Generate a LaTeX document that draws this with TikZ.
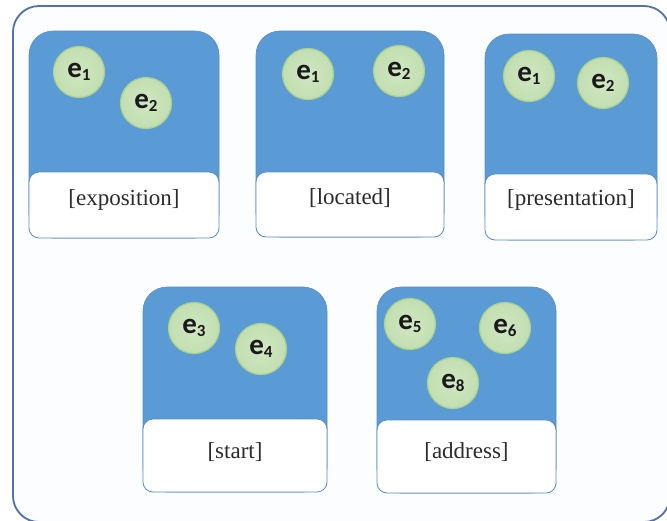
\documentclass[tikz,border=0pt]{standalone}
\usepackage{fontspec}
\setmainfont{Liberation Serif}
\newfontfamily\efont{Carlito}
\definecolor{cardblue}{HTML}{5B9BD5}
\definecolor{cardedge}{HTML}{5A8CC4}
\definecolor{frameedge}{HTML}{4F72AA}
\definecolor{framebg}{HTML}{FCFDFF}
\definecolor{entfill}{HTML}{C5E0B4}
\definecolor{entedge}{HTML}{A9D18E}
\definecolor{labtext}{HTML}{2B2B2B}
\newcommand{\ent}[1]{{\efont\bfseries\fontsize{29}{29}\selectfont e\raisebox{-3.5pt}{\fontsize{17}{17}\selectfont #1}}}
\tikzset{
  card/.style={draw=cardedge, line width=0.6pt, fill=cardblue, rounded corners=24pt, inner sep=0pt},
  labelbox/.style={draw=cardedge, line width=0.8pt, fill=white, rounded corners=10pt, inner sep=0pt},
  labeltext/.style={text=labtext, font=\fontsize{23}{23}\selectfont, inner sep=0pt},
  entity/.style={circle, draw=entedge, line width=1.2pt, inner color=entfill!80!white, outer color=entfill!90!entedge, minimum size=51pt, inner sep=0pt, text=black!90},
  outerframe/.style={draw=frameedge, line width=1.8pt, fill=framebg, rounded corners=26pt, inner sep=0pt}
}
\begin{document}
\begin{tikzpicture}[x=1pt,y=-1pt]
\useasboundingbox (0,0) rectangle (667,520);
\begin{scope}
\clip (0,0) rectangle (667,520);
\node[outerframe, minimum width=657pt, minimum height=516pt] (frame) at (341.5,264) {};
\end{scope}
% card 1
\node[card, minimum width=190pt, minimum height=207pt] (c1) at (124,134.5) {};
\node[labelbox, minimum width=190pt, minimum height=66pt] (l1) at (124,205) {};
\node[labeltext] (t1) at (124,200) {[exposition]};
\node[entity] (c1e1) at (79,72) {\ent{1}};
\node[entity] (c1e2) at (146,103) {\ent{2}};
% card 2
\node[card, minimum width=188pt, minimum height=206pt] (c2) at (350,134) {};
\node[labelbox, minimum width=188pt, minimum height=65pt] (l2) at (350,204.5) {};
\node[labeltext] (t2) at (350,198) {[located]};
\node[entity] (c2e1) at (308,74) {\ent{1}};
\node[entity] (c2e2) at (399,71) {\ent{2}};
% card 3
\node[card, minimum width=172pt, minimum height=206pt] (c3) at (571,137) {};
\node[labelbox, minimum width=172pt, minimum height=66pt] (l3) at (571,207) {};
\node[labeltext] (t3) at (571,200) {[presentation]};
\node[entity] (c3e1) at (529,76) {\ent{1}};
\node[entity] (c3e2) at (603,83) {\ent{2}};
% card 4
\node[card, minimum width=184pt, minimum height=205pt] (c4) at (235,389.5) {};
\node[labelbox, minimum width=184pt, minimum height=73pt] (l4) at (235,455.5) {};
\node[labeltext] (t4) at (235,452) {[start]};
\node[entity] (c4e3) at (194,328) {\ent{3}};
\node[entity] (c4e4) at (261,349) {\ent{4}};
% card 5
\node[card, minimum width=179pt, minimum height=206pt] (c5) at (466.5,390) {};
\node[labelbox, minimum width=179pt, minimum height=73pt] (l5) at (466.5,456.5) {};
\node[labeltext] (t5) at (466.5,452) {[address]};
\node[entity] (c5e5) at (410,324) {\ent{5}};
\node[entity] (c5e6) at (505,328) {\ent{6}};
\node[entity] (c5e8) at (453,383) {\ent{8}};
\end{tikzpicture}
\end{document}
